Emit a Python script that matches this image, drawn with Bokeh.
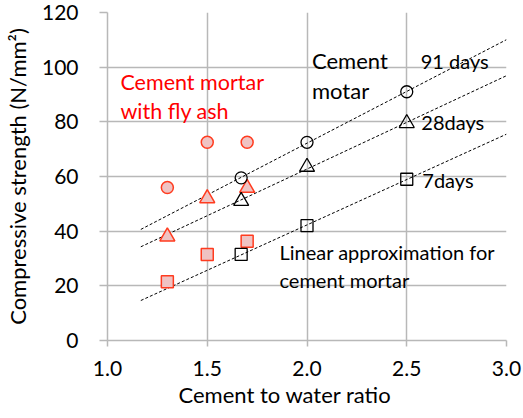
import numpy as np
from bokeh.plotting import figure
from bokeh.models import Label, FixedTicker, NumeralTickFormatter, Title
from bokeh.embed import file_html
from bokeh.resources import INLINE

# Cement mortar (no fly ash)
cm_x = [1.67, 2.0, 2.5]
cm_91 = [59.5, 72.5, 91.0]
cm_28 = [51.0, 63.5, 79.5]
cm_7 = [31.5, 42.0, 59.0]

# Cement mortar with fly ash
fa_x = [1.3, 1.5, 1.7]
fa_91 = [56.0, 72.5, 72.5]
fa_28 = [38.0, 52.0, 55.8]
fa_7 = [21.5, 31.5, 36.3]

fit_x = [1.167, 3.0]

x_ticks = [1.0, 1.5, 2.0, 2.5, 3.0]
y_ticks = [0, 20, 40, 60, 80, 100, 120]

FONT = "Lato"
GRID = "#b8b8b8"

p = figure(width=523, height=418, x_range=(1.0, 3.0), y_range=(0, 120),
           output_backend="svg", toolbar_location=None,
           min_border_left=106, min_border_right=17, min_border_top=12, min_border_bottom=78)
p.outline_line_color = None
p.background_fill_color = "white"
p.border_fill_color = "white"

for ax in (p.xaxis, p.yaxis):
    ax.axis_line_color = GRID
    ax.axis_line_width = 1.5
    ax.major_tick_line_color = GRID
    ax.major_tick_line_width = 1.5
    ax.major_tick_in = 0
    ax.minor_tick_line_color = None
    ax.major_label_text_font = FONT
    ax.major_label_text_font_size = "21px"
    ax.major_label_text_color = "black"
    ax.axis_label_text_font = FONT
    ax.axis_label_text_font_size = "22px"
    ax.axis_label_text_font_style = "normal"
    ax.axis_label_text_color = "black"

p.xaxis.major_tick_out = 6
p.yaxis.major_tick_out = 8
p.xaxis.ticker = FixedTicker(ticks=x_ticks)
p.yaxis.ticker = FixedTicker(ticks=y_ticks)
p.xaxis.formatter = NumeralTickFormatter(format="0.0")
p.yaxis.axis_label = "Compressive strength (N/mm\u00b2)"
p.xaxis.major_label_standoff = 14
p.yaxis.major_label_standoff = 21
p.yaxis.axis_label_standoff = 8

p.xgrid.ticker = FixedTicker(ticks=x_ticks)
p.ygrid.ticker = FixedTicker(ticks=y_ticks)
p.grid.grid_line_color = GRID
p.grid.grid_line_width = 1.5

# x-axis title, left of centre as in the reference
p.add_layout(Title(text="Cement to water ratio", align="left", offset=71,
                   text_font=FONT, text_font_size="22px", text_font_style="normal",
                   text_color="black", standoff=0), "below")

# regression lines
for ys in (cm_91, cm_28, cm_7):
    k, b = np.polyfit(cm_x, ys, 1)
    p.line(fit_x, [k * x + b for x in fit_x], line_color="black",
           line_dash="3 2", line_width=1)

RED = "#ff3b1f"
PINK = "#efc3c3"
p.scatter(fa_x, fa_91, marker="circle", size=12, line_color=RED, fill_color=PINK, line_width=1.5)
p.scatter(fa_x, fa_28, marker="triangle", size=15, line_color=RED, fill_color=PINK, line_width=1.5)
p.scatter(fa_x, fa_7, marker="square", size=12, line_color=RED, fill_color=PINK, line_width=1.5)

p.scatter(cm_x, cm_91, marker="circle", size=12, line_color="black", fill_color=None, line_width=1.3)
p.scatter(cm_x, cm_28, marker="triangle", size=15, line_color="black", fill_color=None, line_width=1.3)
p.scatter(cm_x, cm_7, marker="square", size=12, line_color="black", fill_color=None, line_width=1.3)

def lab(x, y, t, color="black", size="20px", lh=1.15):
    p.add_layout(Label(x=x, y=y, text=t, text_font=FONT, text_font_size=size,
                       text_color=color, text_baseline="top", text_align="left",
                       text_line_height=lh))

lab(1.065, 99.3, "Cement mortar\nwith fly ash", "#ff0000", "21.5px", 1.1)
lab(2.025, 107.2, "Cement\nmotar", "black", "22px", 1.08)
lab(2.57, 106.8, "91 days")
lab(2.573, 84.4, "28days")
lab(2.578, 63.1, "7days")
lab(1.862, 36.7, "Linear approximation for\ncement mortar")

open("out.html", "w").write(file_html(p, INLINE))
